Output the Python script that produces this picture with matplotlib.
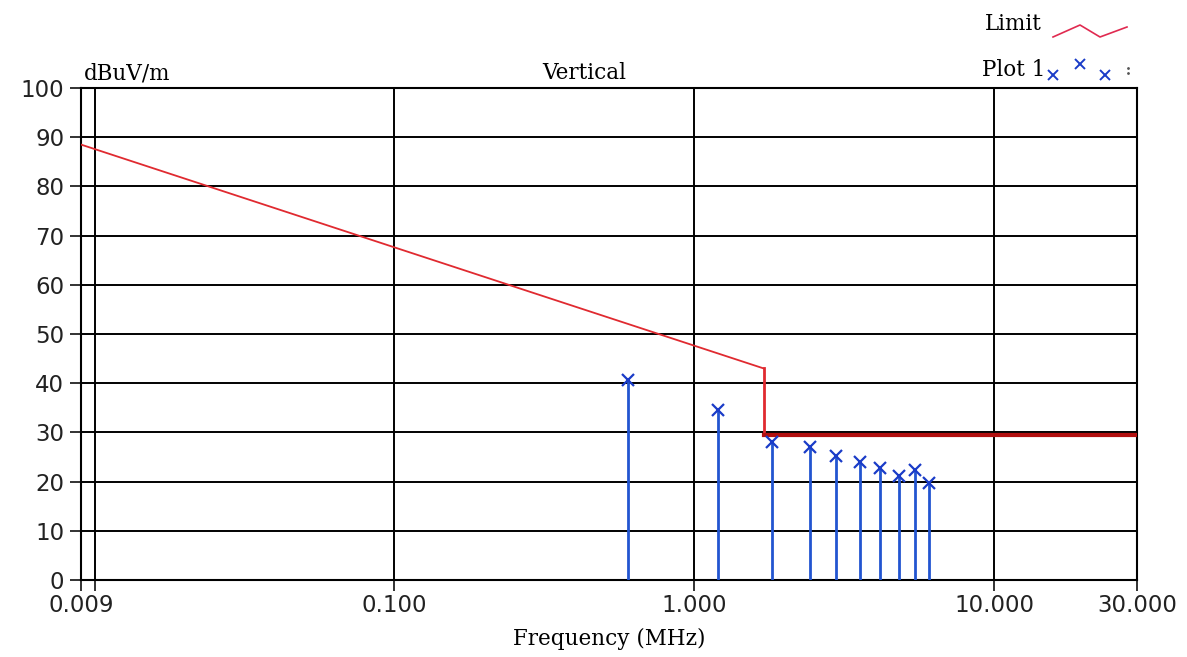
import matplotlib
matplotlib.use("Agg")
import matplotlib.pyplot as plt
from matplotlib.lines import Line2D
import numpy as np

# data
limit_freq = [0.009, 1.705, 1.705, 30.0]
limit_level = [88.5, 43.0, 29.5, 29.5]

peak_freq = [0.603, 1.196, 1.817, 2.427, 2.98, 3.584, 4.156, 4.81, 5.44, 6.06]
peak_level = [40.6, 34.6, 28.1, 27.1, 25.2, 24.0, 22.7, 21.1, 22.4, 19.8]

x_ticks = [0.009, 0.01, 0.1, 1.0, 10.0, 30.0]
x_labels = ["0.009", "", "0.100", "1.000", "10.000", "30.000"]
y_ticks = list(range(0, 101, 10))

serif = ["DejaVu Serif"]
sans = ["DejaVu Sans"]

fig = plt.figure(figsize=(11.87, 6.57), dpi=100)
ax = fig.add_axes([81 / 1187, 1 - 580 / 657, (1137 - 81) / 1187, (580 - 88) / 657])

ax.set_xscale("log")
ax.set_xlim(0.009, 30)
ax.set_ylim(0, 100)

# limit line: sloped part thin, flat part heavier
ax.plot(limit_freq[:2], limit_level[:2], color="#e02a30", lw=1.3, zorder=4)
ax.plot(limit_freq[1:3], limit_level[1:3], color="#e02a30", lw=2.0, zorder=4)
ax.plot(limit_freq[2:], limit_level[2:], color="#b21010", lw=3.0, zorder=4)

# peaks
ax.vlines(peak_freq, 0, peak_level, color="#2255d0", lw=2.0, zorder=5)
ax.plot(peak_freq, peak_level, "x", color="#1a3cc8", ms=9, mew=1.6, zorder=6)

ax.set_xticks(x_ticks)
ax.set_xticklabels(x_labels, fontfamily=sans, fontsize=16.5, color="#222222")
ax.minorticks_off()
ax.set_yticks(y_ticks)
ax.set_yticklabels([str(v) for v in y_ticks], fontfamily=sans, fontsize=16.5,
                   color="#222222")
ax.tick_params(axis="both", direction="out", length=8, width=1.3, color="#222222")
ax.tick_params(axis="x", pad=2)
ax.tick_params(axis="y", pad=4)

ax.grid(True, color="black", lw=1.4)
ax.set_axisbelow(True)
for s in ax.spines.values():
    s.set_linewidth(1.5)
    s.set_color("black")

ax.text(0.003, 1.008, "dBuV/m", transform=ax.transAxes, fontfamily=serif,
        fontsize=15.5, ha="left", va="bottom")
ax.text(0.477, 1.008, "Vertical", transform=ax.transAxes, fontfamily=serif,
        fontsize=15.5, ha="center", va="bottom")
ax.set_xlabel("Frequency (MHz)", fontfamily=serif, fontsize=15.5, labelpad=8)

# legend drawn by hand, as in the original
fig.text(1042 / 1187, 1 - 24 / 657, "Limit", fontfamily=serif, fontsize=15.5,
         ha="right", va="center")
fig.text(1045 / 1187, 1 - 70 / 657, "Plot 1", fontfamily=serif, fontsize=15.5,
         ha="right", va="center")
leg = fig.add_axes([1045 / 1187, 1 - 85 / 657, 90 / 1187, 75 / 657])
leg.set_xlim(0, 90)
leg.set_ylim(75, 0)
leg.axis("off")
leg.add_line(Line2D([8, 35, 55, 82], [27, 15, 27, 17], color="#e02a50", lw=1.2))
leg.plot([8, 35, 60], [65, 54, 65], "x", color="#1a3cc8", ms=7, mew=1.4, ls="none")
leg.plot([83, 83], [58, 63], ".", color="#555555", ms=2)

fig.savefig("out.png", dpi=100)
